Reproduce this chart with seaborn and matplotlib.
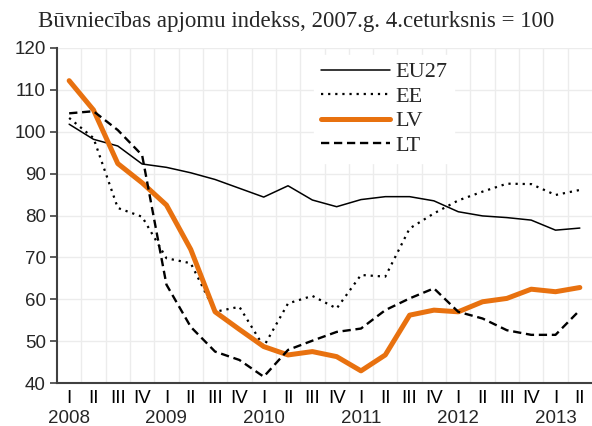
import numpy as np
import pandas as pd
import matplotlib
matplotlib.use("Agg")
import matplotlib.pyplot as plt
import seaborn as sns

# quarters 2008 Q1 .. 2013 Q2
quarters = ["I", "II", "III", "IV"] * 5 + ["I", "II"]
years = ["2008", "2009", "2010", "2011", "2012", "2013"]

eu27 = [101.8, 98.2, 96.6, 92.3, 91.5, 90.2, 88.6, 86.5, 84.4, 87.1, 83.7,
        82.1, 83.8, 84.5, 84.5, 83.5, 80.9, 79.9, 79.5, 78.9, 76.5, 77.0]
ee = [103.3, 98.5, 81.8, 79.7, 69.8, 68.6, 57.0, 58.2, 48.7, 59.0, 60.8,
      57.8, 65.8, 65.4, 76.9, 80.5, 83.6, 85.7, 87.6, 87.5, 84.9, 86.1]
lv = [112.2, 105.2, 92.4, 87.8, 82.5, 71.9, 57.0, 52.8, 48.7, 46.7, 47.5,
      46.3, 42.9, 46.7, 56.2, 57.4, 57.0, 59.4, 60.2, 62.4, 61.8, 62.8]
lt = [104.4, 104.9, 100.4, 94.4, 63.5, 53.4, 47.5, 45.5, 41.5, 47.9, 50.1,
      52.2, 53.0, 57.4, 60.2, 62.6, 57.0, 55.4, 52.6, 51.5, 51.5, 57.4]

idx = np.arange(len(quarters))
df = pd.DataFrame({"q": idx, "EU27": eu27, "EE": ee, "LV": lv, "LT": lt})

sns.set_style("white")
plt.rcParams["font.family"] = ["Liberation Sans", "DejaVu Sans"]

fig = plt.figure(figsize=(5.92, 4.26), dpi=100)
ax = fig.add_axes([57 / 592, 43 / 426, 535 / 592, 335 / 426])

styles = {
    "EU27": dict(color="black", linewidth=1.1, linestyle="-"),
    "EE": dict(color="black", linewidth=1.6, linestyle=(0, (1, 2.2))),
    "LV": dict(color="#E8710F", linewidth=3.6, linestyle="-"),
    "LT": dict(color="black", linewidth=1.7, linestyle=(0, (3.5, 2))),
}
for name in ["EU27", "EE", "LV", "LT"]:
    sns.lineplot(data=df, x="q", y=name, ax=ax, label=name, sort=False,
                 solid_joinstyle="round", solid_capstyle="round",
                 **styles[name])

ax.set_xlim(-0.5, len(quarters) - 0.5)
ax.set_ylim(40, 120)
ax.set_yticks(range(40, 121, 10))

# quarter labels on the axis, years on a second row
ax.set_xticks(idx)
ax.set_xticklabels(quarters, fontsize=13.5)
ax.set_xticks(idx[:-1] + 0.5, minor=True)
ax.tick_params(axis="x", which="both", length=0, pad=5, colors="black")
ax.tick_params(axis="y", length=5, width=1.2, color="#404040",
               labelsize=13.5, pad=3, left=True)
for k, yr in enumerate(years):
    ax.text(idx[k * 4], -0.105, yr, transform=ax.get_xaxis_transform(),
            ha="center", va="center", fontsize=13.5)

ax.grid(False)
ax.grid(axis="y", which="major", color="#ECECEC", linewidth=1)
ax.grid(axis="x", which="minor", color="#ECECEC", linewidth=1)
ax.set_axisbelow(True)

for s in ["top", "right"]:
    ax.spines[s].set_visible(False)
for s in ["left", "bottom"]:
    ax.spines[s].set_color("#404040")
    ax.spines[s].set_linewidth(1.5)

ax.set_xlabel("")
ax.set_ylabel("")

leg = ax.legend(loc="upper left", bbox_to_anchor=(0.46, 1.012), frameon=True,
                framealpha=1, edgecolor="white", fancybox=False,
                prop={"family": "Liberation Serif", "size": 16},
                handlelength=3.1, handletextpad=0.25, labelspacing=0.18,
                borderpad=0.3)

fig.text(0.5, 1 - 21 / 426, "Būvniecības apjomu indekss, 2007.g. 4.ceturksnis = 100",
         ha="center", va="center", family="Liberation Serif", fontsize=16.5)

fig.savefig("out.png", dpi=100)
